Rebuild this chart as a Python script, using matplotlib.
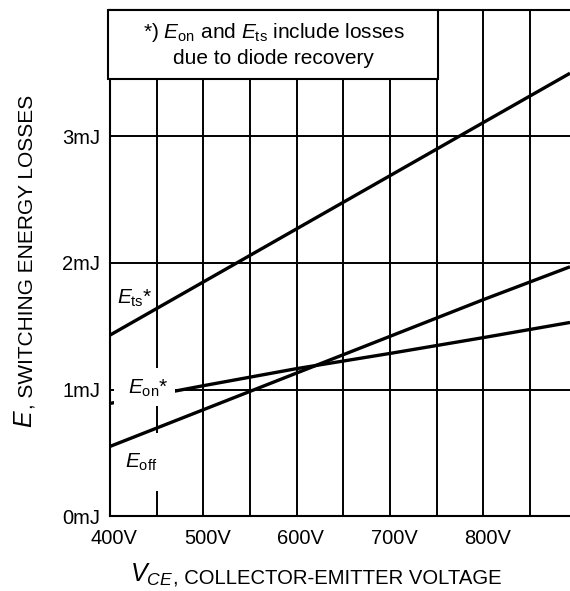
import matplotlib
matplotlib.use('Agg')
import matplotlib.pyplot as plt
from matplotlib.patches import Rectangle
from matplotlib.transforms import ScaledTranslation
import numpy as np

plt.rcParams['font.family'] = ['Liberation Sans', 'DejaVu Sans']
plt.rcParams['mathtext.fontset'] = 'custom'
plt.rcParams['mathtext.rm'] = 'Liberation Sans'
plt.rcParams['mathtext.it'] = 'Liberation Sans:italic'

# collector-emitter voltage (V)
vce = [400, 500, 600, 700, 800, 893]
# switching energies (mJ)
e_ts = [1.43, 1.85, 2.27, 2.69, 3.11, 3.50]
e_on = [0.89, 1.03, 1.165, 1.285, 1.41, 1.53]
e_off = [0.55, 0.84, 1.13, 1.42, 1.71, 1.97]

x_ticks = [400, 500, 600, 700, 800]
x_labels = ['400V', '500V', '600V', '700V', '800V']
y_ticks = [0, 1, 2, 3]
y_labels = ['0mJ', '1mJ', '2mJ', '3mJ']

fig = plt.figure(figsize=(5.70, 5.91), dpi=100)
ax = fig.add_axes([110/570, 75/591, 460/570, 506/591])
ax.set_xlim(400, 893)
ax.set_ylim(0, 4)

ax.set_xticks(x_ticks)
ax.set_xticklabels(x_labels)
ax.set_xticks(np.arange(450, 893, 100), minor=True)
ax.set_yticks(y_ticks)
ax.set_yticklabels(y_labels)
ax.tick_params(which='both', length=0, labelsize=14.5)
ax.tick_params(axis='y', pad=7)
ax.tick_params(axis='x', pad=9)
# labels sit a little right of their ticks in the original
for lab in ax.get_xticklabels():
    lab.set_transform(lab.get_transform() + ScaledTranslation(4/100, 0, fig.dpi_scale_trans))

ax.set_axisbelow(True)
ax.grid(True, which='both', color='black', lw=1.4)
for s in ['left', 'bottom', 'top']:
    ax.spines[s].set_linewidth(1.5)
ax.spines['right'].set_visible(False)

for ys in [e_ts, e_on, e_off]:
    ax.plot(vce, ys, color='black', lw=2.4, zorder=2, solid_capstyle='butt')

# white masks behind the curve labels
ax.add_patch(Rectangle((404, 0.87), 66, 0.30, facecolor='white', edgecolor='none', zorder=2.2))
ax.add_patch(Rectangle((444, 0.20), 14, 0.455, facecolor='white', edgecolor='none', zorder=2.2))

ax.text(407.5, 1.68, r'$E_{\rm ts}$*', fontsize=15, ha='left', va='baseline', zorder=3)
ax.text(419, 0.97, r'$E_{\rm on}$*', fontsize=15, ha='left', va='baseline', zorder=3)
ax.text(416, 0.378, r'$E_{\rm off}$', fontsize=15, ha='left', va='baseline', zorder=3)

# note box
ax.add_patch(Rectangle((398, 3.455), 353, 0.545, facecolor='white', edgecolor='black',
                       lw=1.5, zorder=3, clip_on=False))
ax.text((400 + 751) / 2, 3.725,
        '*) $E_{\\rm on}$ and $E_{\\rm ts}$ include losses\ndue to diode recovery',
        fontsize=15, ha='center', va='center', linespacing=1.35, zorder=4)

# axis titles
t1 = fig.text(25/570, 1 - 428/591, r'$E$', fontsize=18, rotation=90, ha='center', va='bottom')
ax.annotate(', SWITCHING ENERGY LOSSES', xy=(1, 1), xycoords=t1, fontsize=15,
            rotation=90, ha='right', va='bottom', annotation_clip=False)
t2 = fig.text(130/570, 1 - 588/591, r'$V_{CE}$', fontsize=18, ha='left', va='bottom')
ax.annotate(', COLLECTOR-EMITTER VOLTAGE', xy=(1, 0), xycoords=t2, fontsize=14.6,
            ha='left', va='bottom', annotation_clip=False)

fig.savefig('out.png', dpi=100)
